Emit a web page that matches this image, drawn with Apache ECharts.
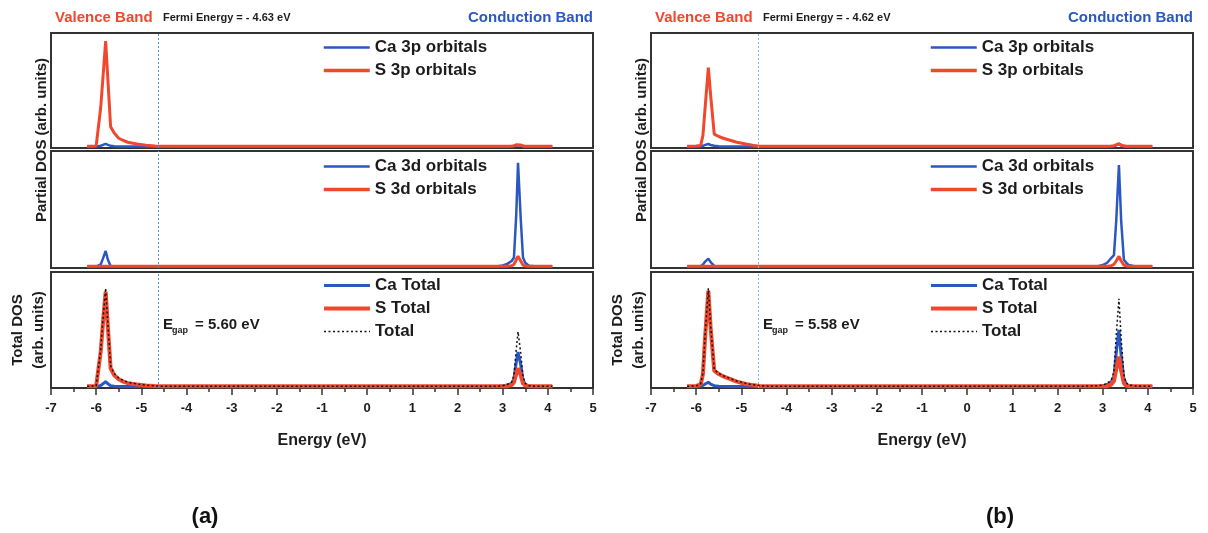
<!DOCTYPE html>
<html>
<head>
<meta charset="utf-8">
<script src="https://cdn.jsdelivr.net/npm/echarts@6/dist/echarts.min.js"></script>
<style>
  html, body { margin: 0; padding: 0; background: #fff; }
  #chart { width: 1208px; height: 533px; }
</style>
</head>
<body>
<div id="chart"></div>
<script>
// ---- Energy axis ----
const energyMin = -7;
const energyMax = 5;
const energyStep = 1;

// ---- CaS (a): energy grid (eV) and densities of states (arb. units, 0-100 per panel) ----
const energyA = [-6.2, -6.0, -5.96, -5.9, -5.85, -5.79, -5.74, -5.68, -5.6, -5.5, -5.4, -5.3, -5.1, -4.9, -4.7, -4.5, -4.0, 0.0,
                 2.6, 2.9, 3.0, 3.1, 3.2, 3.25, 3.3, 3.34, 3.4, 3.45, 3.5, 3.58, 3.7, 3.85, 4.1];
const ca3pA  = [1.1, 1.2, 1.4, 1.9, 2.7, 3.6, 2.7, 1.9, 1.6, 1.4, 1.3, 1.2, 1.2, 1.1, 1.1, 1.1, 1.1, 1.1,
                1.1, 1.1, 1.1, 1.1, 1.2, 1.4, 2.4, 3.8, 2.2, 1.3, 1.1, 1.1, 1.1, 1.1, 1.1];
const s3pA   = [1.5, 1.8, 3.0, 35, 61, 93, 59, 18.5, 13, 8.5, 6.5, 5.0, 3.5, 2.5, 1.8, 1.5, 1.5, 1.5,
                1.5, 1.5, 1.5, 1.6, 1.8, 2.0, 2.8, 3.5, 2.6, 1.9, 1.6, 1.5, 1.5, 1.5, 1.5];
const ca3dA  = [1.2, 1.2, 1.3, 3.0, 8.0, 14.5, 7.0, 1.8, 1.4, 1.3, 1.2, 1.2, 1.2, 1.2, 1.2, 1.2, 1.2, 1.2,
                1.2, 1.6, 2.2, 3.5, 6.0, 9.0, 45, 90, 42, 9.0, 4.5, 2.0, 1.6, 1.3, 1.2];
const s3dA   = [1.5, 1.5, 1.5, 1.5, 1.5, 1.6, 1.5, 1.5, 1.5, 1.5, 1.5, 1.5, 1.5, 1.5, 1.5, 1.5, 1.5, 1.5,
                1.5, 1.5, 1.5, 1.6, 2.0, 3.0, 7.0, 10, 6.0, 2.5, 1.8, 1.5, 1.5, 1.5, 1.5];
const caTotA = [1.2, 1.2, 1.4, 2.2, 3.6, 5.5, 3.6, 2.0, 1.6, 1.4, 1.3, 1.3, 1.2, 1.2, 1.2, 1.2, 1.2, 1.2,
                1.2, 1.4, 1.8, 2.5, 4.0, 8.0, 22, 31, 20, 7.0, 3.0, 1.8, 1.4, 1.3, 1.2];
const sTotA  = [1.5, 1.8, 3.0, 31, 56, 83, 52, 17, 11, 7.5, 5.5, 4.2, 3.0, 2.2, 1.7, 1.5, 1.5, 1.5,
                1.5, 1.5, 1.5, 1.6, 2.5, 5.0, 12, 17, 11, 4.0, 2.2, 1.6, 1.5, 1.5, 1.5];
const totA   = [1.5, 1.8, 3.5, 33, 59, 86, 55, 19, 12.5, 8.5, 6.5, 5.0, 3.5, 2.5, 1.8, 1.5, 1.5, 1.5,
                1.5, 1.6, 2.0, 3.0, 5.0, 11, 33, 48.5, 30, 10, 4.0, 2.0, 1.6, 1.5, 1.5];

// ---- CaS (b) ----
const energyB = [-6.2, -6.0, -5.9, -5.85, -5.8, -5.73, -5.68, -5.6, -5.5, -5.4, -5.27, -5.1, -4.9, -4.75, -4.6, -4.4, -4.0, 0.0,
                 2.6, 2.9, 3.0, 3.1, 3.19, 3.25, 3.3, 3.36, 3.41, 3.47, 3.52, 3.58, 3.7, 3.85, 4.1];
const ca3pB  = [1.1, 1.2, 1.4, 1.9, 2.7, 3.5, 2.6, 1.9, 1.6, 1.4, 1.3, 1.2, 1.2, 1.1, 1.1, 1.1, 1.1, 1.1,
                1.1, 1.1, 1.1, 1.1, 1.2, 1.4, 2.4, 3.8, 2.2, 1.3, 1.1, 1.1, 1.1, 1.1, 1.1];
const s3pB   = [1.5, 1.8, 2.2, 11, 36, 70, 46, 12, 10, 8.5, 7.0, 5.0, 3.5, 2.5, 1.6, 1.5, 1.5, 1.5,
                1.5, 1.5, 1.5, 1.6, 1.8, 2.0, 2.8, 3.5, 2.6, 1.9, 1.6, 1.5, 1.5, 1.5, 1.5];
const ca3dB  = [1.2, 1.2, 1.5, 3.0, 5.5, 8.0, 5.0, 1.8, 1.4, 1.3, 1.2, 1.2, 1.2, 1.2, 1.2, 1.2, 1.2, 1.2,
                1.2, 1.5, 2.5, 4.5, 8.5, 11, 40, 88, 40, 7.0, 4.5, 2.5, 1.6, 1.3, 1.2];
const s3dB   = [1.5, 1.5, 1.5, 1.5, 1.5, 1.6, 1.5, 1.5, 1.5, 1.5, 1.5, 1.5, 1.5, 1.5, 1.5, 1.5, 1.5, 1.5,
                1.5, 1.5, 1.5, 1.6, 2.0, 3.0, 6.0, 10, 6.0, 2.5, 1.8, 1.5, 1.5, 1.5, 1.5];
const caTotB = [1.2, 1.2, 1.5, 2.2, 3.4, 5.0, 3.4, 2.0, 1.6, 1.4, 1.3, 1.3, 1.2, 1.2, 1.2, 1.2, 1.2, 1.2,
                1.2, 1.4, 2.0, 3.0, 5.0, 10, 30, 50, 28, 8.0, 3.5, 2.0, 1.4, 1.3, 1.2];
const sTotB  = [1.5, 1.8, 3.0, 12, 45, 84, 52, 15, 12, 10, 8.0, 5.5, 3.5, 2.5, 1.8, 1.5, 1.5, 1.5,
                1.5, 1.5, 1.5, 1.6, 3.0, 6.0, 16, 27, 15, 4.0, 2.0, 1.6, 1.5, 1.5, 1.5];
const totB   = [1.5, 1.8, 3.5, 13, 47, 86, 54, 16, 12.5, 10.5, 8.5, 6.0, 4.0, 2.8, 2.0, 1.6, 1.5, 1.5,
                1.6, 2.0, 2.5, 4.0, 7.0, 14, 45, 77, 42, 11, 4.5, 2.5, 1.8, 1.6, 1.5];

// ---- Annotations ----
const fermiA = -4.63, fermiB = -4.62;
const gapA = '5.60', gapB = '5.58';
const partialNames = [['Ca 3p orbitals', 'S 3p orbitals'], ['Ca 3d orbitals', 'S 3d orbitals']];
const totalNames = ['Ca Total', 'S Total', 'Total'];

const FONT = '"Liberation Sans", Arial, Helvetica, sans-serif';
const RED = '#f0482c';
const BLUE = '#2b57c2';
const INK = '#1c1c1c';

const pair = (xs, ys) => xs.map((x, i) => [x, ys[i]]);

const grids = [], xAxes = [], yAxes = [], series = [], legends = [], graphics = [];

function addPanel(p) {
  const rows = [
    { top: 33, height: 115 },
    { top: 151, height: 117 },
    { top: 272, height: 116 }
  ];
  const base = grids.length;
  rows.forEach((r, k) => {
    grids.push({ left: p.left, width: 542, top: r.top, height: r.height, show: true,
                 borderColor: '#333', borderWidth: 2, backgroundColor: 'transparent' });
    const bottom = k === 2;
    xAxes.push({
      type: 'value', gridIndex: base + k, min: energyMin, max: energyMax, interval: energyStep,
      splitLine: { show: false },
      axisLine: { show: bottom, onZero: false, lineStyle: { color: '#333', width: 2 } },
      axisTick: { show: bottom, inside: false, length: 7, lineStyle: { color: '#333', width: 1.5 } },
      minorTick: { show: bottom, splitNumber: 2, length: 4, lineStyle: { color: '#333', width: 1.5 } },
      axisLabel: { show: bottom, margin: 14, color: INK, fontFamily: FONT, fontWeight: 'bold', fontSize: 13 },
      name: bottom ? 'Energy (eV)' : '', nameLocation: 'middle', nameGap: 45,
      nameTextStyle: { color: INK, fontFamily: FONT, fontWeight: 'bold', fontSize: 16 }
    });
    yAxes.push({ type: 'value', gridIndex: base + k, min: 0, max: 100, show: false });
  });

  const fermiLine = {
    silent: true, symbol: 'none', label: { show: false },
    lineStyle: { type: [2, 2], color: p.fermiColor, width: 1 },
    data: [{ xAxis: p.fermi }]
  };
  const line = (name, g, data, color, width, extra) => Object.assign({
    name, type: 'line', xAxisIndex: base + g, yAxisIndex: base + g,
    data: pair(p.energy, data), symbol: 'none', smooth: false, silent: true,
    lineStyle: { color, width }, itemStyle: { color }, z: 2
  }, extra || {});

  series.push(line(partialNames[0][0], 0, p.ca3p, BLUE, 2.5, { markLine: fermiLine }));
  series.push(line(partialNames[0][1], 0, p.s3p, RED, 3));
  series.push(line(partialNames[1][0], 1, p.ca3d, BLUE, 2.5, { markLine: fermiLine }));
  series.push(line(partialNames[1][1], 1, p.s3d, RED, 3));
  series.push(line(totalNames[0], 2, p.caTot, BLUE, 3, { markLine: fermiLine }));
  series.push(line(totalNames[1], 2, p.sTot, RED, 4));
  series.push(line(totalNames[2], 2, p.tot, '#111', 1.5, { lineStyle: { color: '#111', width: 1.5, type: [2, 2.5] }, z: 3 }));

  // legend entries: blue lines thinner, red lines thicker, total dotted
  const entry = (name, width) => ({ name, lineStyle: { width } });
  const legendBase = {
    orient: 'vertical', left: p.legendLeft, itemWidth: 46, itemHeight: 14, itemGap: 6,
    selectedMode: false, padding: 0,
    itemStyle: { opacity: 0 },
    textStyle: { color: INK, fontFamily: FONT, fontWeight: 'bold', fontSize: 17 }
  };
  legends.push(Object.assign({}, legendBase, { top: 39,
    data: [entry(partialNames[0][0], 2.5), entry(partialNames[0][1], 3.5)] }));
  legends.push(Object.assign({}, legendBase, { top: 158,
    data: [entry(partialNames[1][0], 2.5), entry(partialNames[1][1], 3.5)] }));
  legends.push(Object.assign({}, legendBase, { top: 277,
    data: [entry(totalNames[0], 3), entry(totalNames[1], 4), entry(totalNames[2], 1.5)] }));

  const txt = (text, x, y, font, fill, align, extra) => Object.assign({
    type: 'text', x, y, silent: true,
    style: { text, font, fill, align: align || 'left', verticalAlign: 'middle' }
  }, extra || {});
  const L = p.left;
  graphics.push(txt('Valence Band', L + 4, 18, 'bold 15px ' + FONT, RED));
  graphics.push(txt('Fermi Energy = - ' + p.fermiText + ' eV', L + 112, 18, 'bold 11px ' + FONT, INK));
  graphics.push(txt('Conduction Band', L + 542, 18, 'bold 15px ' + FONT, BLUE, 'right'));
  graphics.push(txt('Partial DOS (arb. units)', L - 9, 140, 'bold 15px ' + FONT, INK, 'center', { rotation: Math.PI / 2 }));
  graphics.push(txt('Total DOS', L - 33, 330, 'bold 15px ' + FONT, INK, 'center', { rotation: Math.PI / 2 }));
  graphics.push(txt('(arb. units)', L - 12, 330, 'bold 15px ' + FONT, INK, 'center', { rotation: Math.PI / 2 }));
  graphics.push(txt('E', L + 112, 325, 'bold 15px ' + FONT, INK));
  graphics.push(txt('gap', L + 121, 331, 'bold 9px ' + FONT, INK));
  graphics.push(txt('= ' + p.gap + ' eV', L + 144, 325, 'bold 15px ' + FONT, INK));
  graphics.push(txt(p.tag, p.tagX, 517, 'bold 22px ' + FONT, '#111', 'center'));
}

addPanel({ left: 51, legendLeft: 322, energy: energyA, ca3p: ca3pA, s3p: s3pA, ca3d: ca3dA, s3d: s3dA,
           caTot: caTotA, sTot: sTotA, tot: totA, fermi: fermiA, fermiText: '4.63', fermiColor: '#3f9ede',
           gap: gapA, tag: '(a)', tagX: 205 });
addPanel({ left: 651, legendLeft: 929, energy: energyB, ca3p: ca3pB, s3p: s3pB, ca3d: ca3dB, s3d: s3dB,
           caTot: caTotB, sTot: sTotB, tot: totB, fermi: fermiB, fermiText: '4.62', fermiColor: '#8ab7d6',
           gap: gapB, tag: '(b)', tagX: 1000 });

const chart = echarts.init(document.getElementById('chart'), null, { renderer: 'canvas' });
chart.setOption({
  animation: false,
  backgroundColor: '#fff',
  grid: grids, xAxis: xAxes, yAxis: yAxes, series, legend: legends,
  graphic: { elements: graphics }
});
</script>
</body>
</html>
